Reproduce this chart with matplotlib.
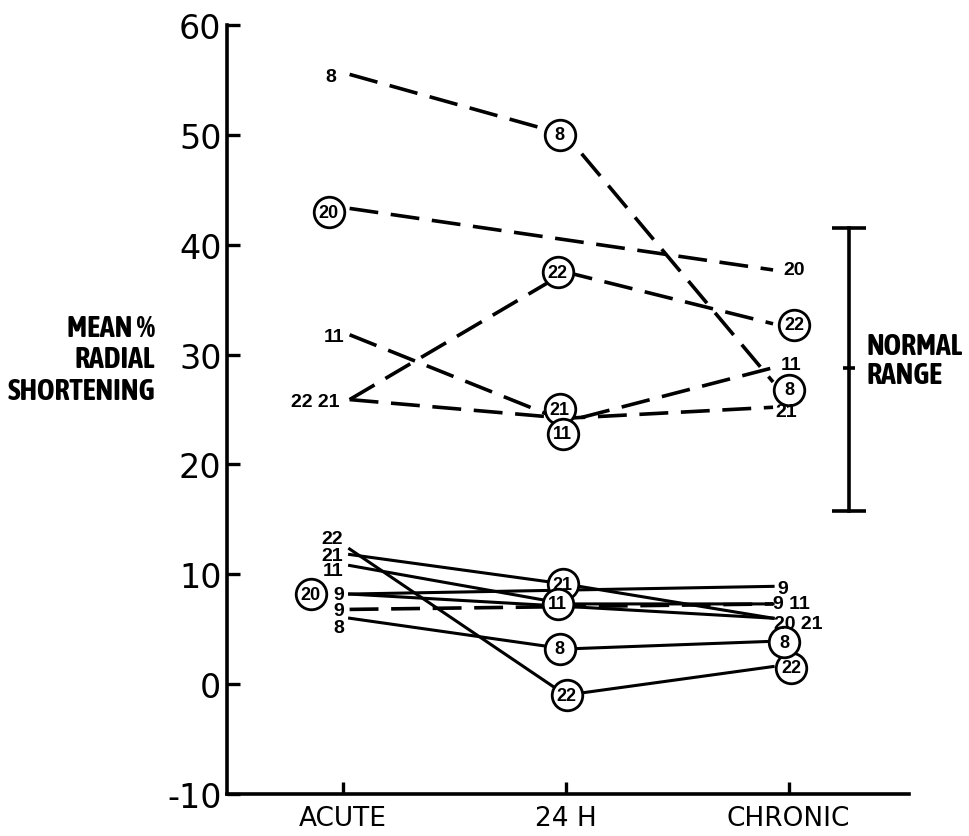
import numpy as np
import matplotlib
matplotlib.use('Agg')
import matplotlib.pyplot as plt
import matplotlib.font_manager as fm
from matplotlib.font_manager import FontProperties
from matplotlib.transforms import offset_copy

plt.rcParams['axes.unicode_minus'] = False

# a condensed bold face for the hand lettering, if one is installed
def pick_condensed():
    def w(f):
        return f.weight if isinstance(f.weight, int) else {'bold': 700, 'normal': 400}.get(f.weight, 400)
    for name in ['Asap Condensed', 'Archivo Narrow', 'Liberation Sans Narrow']:
        faces = [f for f in fm.fontManager.ttflist if f.name == name and f.style == 'normal']
        if faces:
            best = sorted(faces, key=lambda f: abs(w(f) - 650))[0]
            return FontProperties(fname=best.fname)
    return FontProperties(family='DejaVu Sans', weight='bold')

narrow = pick_condensed()
numfont = FontProperties(family=['Liberation Sans', 'DejaVu Sans'], weight='bold')

categories = ['ACUTE', '24 H', 'CHRONIC']

# dashed series (value per time point, nan = not measured)
dashed_8 = [55.5, 50.0, 27.5]
dashed_20 = [43.3, np.nan, 37.7]
dashed_22 = [25.9, 37.5, 32.8]
dashed_21 = [25.9, 24.2, 25.2]
dashed_11 = [31.8, 23.9, 28.8]
dashed_9 = [6.8, np.nan, 7.3]

# solid series
solid_22 = [12.3, -1.0, 1.6]
solid_21 = [11.8, 9.1, 6.0]
solid_11 = [10.8, 7.3, 7.3]
solid_20 = [8.2, np.nan, 6.0]
solid_9 = [8.2, np.nan, 8.9]
solid_8 = [6.0, 3.2, 3.9]

normal_low = 15.8
normal_mid = 28.8
normal_high = 41.5

# lines start a little right of the tick and stop short of the chronic labels
line_x = np.array([0.03, 1.0, 1.93])

fig = plt.figure(figsize=(9.69, 8.37), dpi=100)
ax = fig.add_axes([0.2343, 0.0502, 0.7038, 0.9188])

def draw(ax, vals, style):
    y = np.array(vals, dtype=float)
    m = ~np.isnan(y)
    if style == 'dashed':
        ax.plot(line_x[m], y[m], color='black', lw=2.6, dashes=(8, 3.5), zorder=2)
    else:
        ax.plot(line_x[m], y[m], color='black', lw=2.2, zorder=2)

for s in [dashed_8, dashed_20, dashed_22, dashed_21, dashed_11, dashed_9]:
    draw(ax, s, 'dashed')
for s in [solid_22, solid_21, solid_11, solid_20, solid_9, solid_8]:
    draw(ax, s, 'solid')

# (series, index, text, circled, dx, dy) offsets in pixels
labels = [
    (dashed_8, 0, '8', False, -19, -2),
    (dashed_8, 1, '8', True, -6, 0),
    (dashed_8, 2, '8', True, 16, -8),
    (dashed_20, 0, '20', True, -21, -4),
    (dashed_20, 2, '20', False, 21, 0),
    (dashed_22, 0, '22 21', False, -34, -2),
    (dashed_22, 1, '22', True, -8, 0),
    (dashed_22, 2, '22', True, 21, -1),
    (dashed_21, 1, '21', True, -6, 9),
    (dashed_21, 2, '21', False, 13, -4),
    (dashed_11, 0, '11', False, -16, -2),
    (dashed_11, 1, '11', True, -3, -12),
    (dashed_11, 2, '11', False, 18, 3),
    (solid_22, 0, '22', False, -17, 10),
    (solid_22, 1, '22', True, 1, 0),
    (solid_22, 2, '22', True, 18, -1),
    (solid_21, 0, '21', False, -17, -1),
    (solid_21, 1, '21', True, -3, 0),
    (solid_11, 0, '11', False, -17, -5),
    (solid_11, 1, '11', True, -8, 0),
    (solid_11, 2, '9 11', False, 18, 0),
    (solid_20, 0, '20', True, -39, 0),
    (solid_20, 2, '20 21', False, 25, -5),
    (solid_9, 0, '9', False, -11, 0),
    (solid_9, 2, '9', False, 10, -2),
    (dashed_9, 0, '9', False, -11, -1),
    (solid_8, 0, '8', False, -11, -9),
    (solid_8, 1, '8', True, -6, 0),
    (solid_8, 2, '8', True, 11, -1),
]

for vals, i, txt, circled, dx, dy in labels:
    tr = offset_copy(ax.transData, fig=fig, x=dx, y=dy, units='dots')
    if circled:
        ax.plot(line_x[i], vals[i], 'o', ms=22, mfc='white', mec='black', mew=2.0,
                transform=tr, zorder=4, clip_on=False)
    ax.text(line_x[i], vals[i], txt, transform=tr, ha='center', va='center',
            fontproperties=numfont, fontsize=13 if circled else 14, zorder=5)

# normal range bar
nx = 2.27
ax.plot([nx, nx], [normal_low, normal_high], color='black', lw=2.6, zorder=2)
ax.plot([nx, nx], [normal_low, normal_high], ls='none', marker='_', ms=25,
        mew=2.6, color='black')
ax.plot([nx], [normal_mid], ls='none', marker='_', ms=8, mew=2.6, color='black')
t_norm = ax.text(2.35, normal_mid + 0.7, 'NORMAL\nRANGE', ha='left', va='center',
                 fontproperties=narrow, fontsize=22, linespacing=1.0, clip_on=False)

ax.set_xlim(-0.52, 2.54)
ax.set_ylim(-10, 60)
ax.set_xticks([0, 1, 2])
ax.set_xticklabels(categories)
ax.set_yticks(np.arange(-10, 61, 10))
ax.spines['top'].set_visible(False)
ax.spines['right'].set_visible(False)
for sp in ['left', 'bottom']:
    ax.spines[sp].set_linewidth(2.6)
ax.tick_params(axis='both', direction='in', length=9, width=2.4, color='black')
ax.tick_params(axis='x', labelsize=19, pad=8)
ax.tick_params(axis='y', labelsize=24, pad=4)

t_ylab = fig.text(155 / 969, 1 - 360 / 837, 'MEAN %\nRADIAL\nSHORTENING', ha='right',
                  va='center', multialignment='right', fontproperties=narrow,
                  fontsize=21, linespacing=1.1)

# shrink the lettering to the widths it has in the original
fig.canvas.draw()
r = fig.canvas.get_renderer()
for t, target in [(t_ylab, 148), (t_norm, 96)]:
    bb = t.get_window_extent(r)
    t.set_fontsize(t.get_fontsize() * target / bb.width)

fig.savefig('out.png', dpi=100)
